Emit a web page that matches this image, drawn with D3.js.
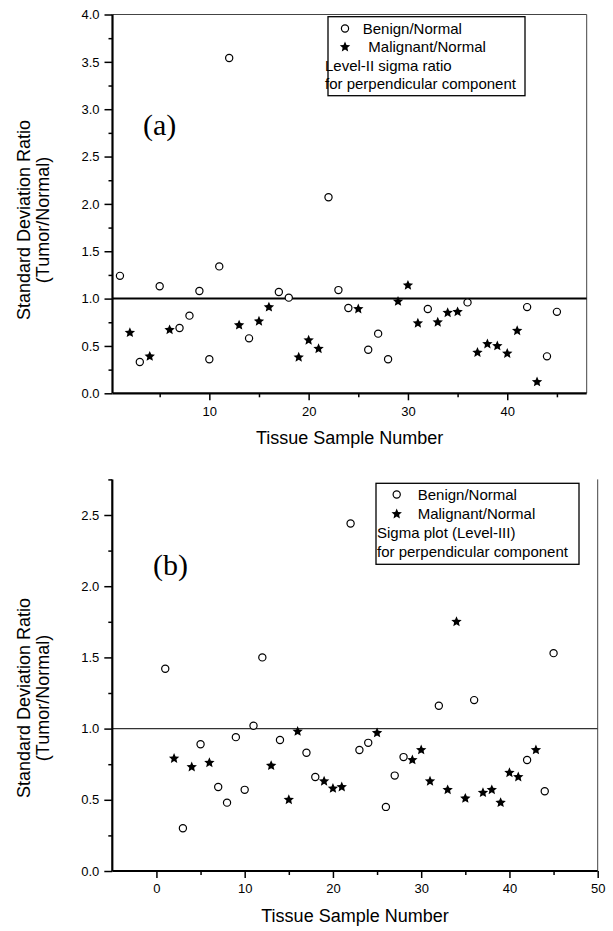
<!DOCTYPE html>
<html>
<head>
<meta charset="utf-8">
<script src="https://cdn.jsdelivr.net/npm/d3@7"></script>
<style>
  body { margin: 0; background: #fff; }
  svg { display: block; font-family: "Liberation Sans", Arial, sans-serif; }
</style>
</head>
<body>
<svg id="chart" width="613" height="931"></svg>
<script>
// Sample numbers for each tissue class
const benignSamples = [1, 3, 5, 7, 8, 9, 10, 11, 12, 14, 17, 18, 22, 23, 24, 26, 27, 28, 32, 36, 42, 44, 45];
const malignantSamples = [2, 4, 6, 13, 15, 16, 19, 20, 21, 25, 29, 30, 31, 33, 34, 35, 37, 38, 39, 40, 41, 43];

// (a) Level-II sigma ratio, perpendicular component
const benignLevel2 = [1.24, 0.33, 1.13, 0.69, 0.82, 1.08, 0.36, 1.34, 3.54, 0.58, 1.07, 1.01, 2.07, 1.09, 0.90, 0.46, 0.63, 0.36, 0.89, 0.96, 0.91, 0.39, 0.86];
const malignantLevel2 = [0.64, 0.39, 0.67, 0.72, 0.76, 0.91, 0.38, 0.56, 0.47, 0.89, 0.97, 1.14, 0.74, 0.75, 0.85, 0.86, 0.43, 0.52, 0.50, 0.42, 0.66, 0.12];

// (b) Level-III sigma plot, perpendicular component
const benignLevel3 = [1.42, 0.30, 0.89, 0.59, 0.48, 0.94, 0.57, 1.02, 1.50, 0.92, 0.83, 0.66, 2.44, 0.85, 0.90, 0.45, 0.67, 0.80, 1.16, 1.20, 0.78, 0.56, 1.53];
const malignantLevel3 = [0.79, 0.73, 0.76, 0.74, 0.50, 0.98, 0.63, 0.58, 0.59, 0.97, 0.78, 0.85, 0.63, 0.57, 1.75, 0.51, 0.55, 0.57, 0.48, 0.69, 0.66, 0.85];

// Axis ticks
const xMajorA = [10, 20, 30, 40];
const xMinorA = [5, 15, 25, 35, 45];
const yMajorA = [0, 0.5, 1.0, 1.5, 2.0, 2.5, 3.0, 3.5, 4.0];
const yMinorA = [0.25, 0.75, 1.25, 1.75, 2.25, 2.75, 3.25, 3.75];
const xMajorB = [0, 10, 20, 30, 40, 50];
const xMinorB = [5, 15, 25, 35, 45];
const yMajorB = [0, 0.5, 1.0, 1.5, 2.0, 2.5];
const yMinorB = [0.25, 0.75, 1.25, 1.75, 2.25, 2.75];

// Text
const legendSeries = ["Benign/Normal", "Malignant/Normal"];
const notesA = ["Level-II sigma ratio", "for perpendicular component"];
const notesB = ["Sigma plot (Level-III)", "for perpendicular component"];
const yTitle = ["Standard Deviation Ratio", "(Tumor/Normal)"];
const xTitle = "Tissue Sample Number";
const referenceRatio = 1.0;

const svg = d3.select("#chart");
const fmtY = d3.format(".1f");

// five-pointed star with a fairly plump body
const plumpStar = {
  draw(context, size) {
    const R = Math.sqrt(size) / 1.1;
    const r = R * 0.46;
    for (let i = 0; i < 10; i++) {
      const rad = i % 2 ? r : R;
      const a = -Math.PI / 2 + i * Math.PI / 5;
      const px = rad * Math.cos(a), py = rad * Math.sin(a);
      if (i === 0) context.moveTo(px, py); else context.lineTo(px, py);
    }
    context.closePath();
  }
};
const starPath = d3.symbol().type(plumpStar).size(36)();

function drawPanel(p) {
  const g = svg.append("g");
  const x = d3.scaleLinear().domain(p.xDomain).range([p.left, p.right]);
  const y = d3.scaleLinear().domain(p.yDomain).range([p.bottom, p.top]);

  // thin frame on the top / right
  if (p.topBorder) {
    g.append("line").attr("x1", p.left).attr("x2", p.right)
      .attr("y1", p.top).attr("y2", p.top)
      .attr("stroke", "#444").attr("stroke-width", 1);
  }
  g.append("line").attr("x1", p.right).attr("x2", p.right)
    .attr("y1", p.top).attr("y2", p.bottom)
    .attr("stroke", "#444").attr("stroke-width", 1);

  // ratio = 1 reference line
  g.append("line")
    .attr("x1", x(p.xDomain[0])).attr("x2", x(p.xDomain[1]))
    .attr("y1", y(referenceRatio)).attr("y2", y(referenceRatio))
    .attr("stroke", p.refColor).attr("stroke-width", p.refWidth);

  // axes: major ticks with labels, minor ticks without
  const styleAxis = sel => {
    sel.select(".domain").remove();
    sel.selectAll(".tick line").attr("stroke", "#000").attr("stroke-width", 1.5);
    sel.selectAll(".tick text").attr("fill", "#000")
      .style("font-family", '"Liberation Sans", Arial, sans-serif')
      .style("font-size", "13px");
  };
  g.append("g").attr("transform", `translate(0,${p.bottom})`)
    .call(d3.axisBottom(x).tickValues(p.xMajor).tickSize(7).tickPadding(6).tickFormat(d3.format("d")))
    .call(styleAxis);
  g.append("g").attr("transform", `translate(0,${p.bottom})`)
    .call(d3.axisBottom(x).tickValues(p.xMinor).tickSize(4).tickFormat(""))
    .call(styleAxis);
  g.append("g").attr("transform", `translate(${p.left},0)`)
    .call(d3.axisLeft(y).tickValues(p.yMajor).tickSize(8).tickPadding(5).tickFormat(fmtY))
    .call(styleAxis);
  g.append("g").attr("transform", `translate(${p.left},0)`)
    .call(d3.axisLeft(y).tickValues(p.yMinor).tickSize(4).tickFormat(""))
    .call(styleAxis);

  // thick left / bottom axis lines
  g.append("line").attr("x1", p.left).attr("x2", p.right)
    .attr("y1", p.bottom).attr("y2", p.bottom)
    .attr("stroke", "#000").attr("stroke-width", 2.2);
  g.append("line").attr("x1", p.left).attr("x2", p.left)
    .attr("y1", p.top).attr("y2", p.bottom)
    .attr("stroke", "#000").attr("stroke-width", 2.2);

  // malignant / normal: filled stars
  g.append("g").selectAll("path")
    .data(d3.zip(malignantSamples, p.malignant))
    .join("path")
    .attr("d", starPath)
    .attr("transform", d => `translate(${x(d[0])},${y(d[1])})`)
    .attr("fill", "#000");

  // benign / normal: open circles
  g.append("g").selectAll("circle")
    .data(d3.zip(benignSamples, p.benign))
    .join("circle")
    .attr("cx", d => x(d[0])).attr("cy", d => y(d[1]))
    .attr("r", 3.6)
    .attr("fill", "#fff").attr("stroke", "#000").attr("stroke-width", 1.2);

  // axis titles
  g.append("text")
    .attr("x", (p.left + p.right) / 2).attr("y", p.bottom + 51)
    .attr("text-anchor", "middle").attr("font-size", 18)
    .text(xTitle);
  const yt = g.append("g").attr("transform", `translate(0,${p.yTitleCenter}) rotate(-90)`);
  yt.append("text").attr("x", 0).attr("y", 29.5)
    .attr("text-anchor", "middle").attr("font-size", 18).text(yTitle[0]);
  yt.append("text").attr("x", 0).attr("y", 48.5)
    .attr("text-anchor", "middle").attr("font-size", 18).text(yTitle[1]);

  // panel letter
  g.append("text").attr("x", p.letterX).attr("y", p.letterY)
    .attr("font-family", '"Liberation Serif", "Times New Roman", serif')
    .attr("font-size", 30).text(p.letter);

  // legend box
  const L = p.legend;
  g.append("rect").attr("x", L.x).attr("y", L.y).attr("width", L.w).attr("height", L.h)
    .attr("fill", "#fff").attr("stroke", "#000").attr("stroke-width", 1.3);
  g.append("circle").attr("cx", L.symX).attr("cy", L.rows[0])
    .attr("r", 3.6).attr("fill", "#fff").attr("stroke", "#000").attr("stroke-width", 1.2);
  g.append("path").attr("d", starPath)
    .attr("transform", `translate(${L.symX},${L.rows[1]})`).attr("fill", "#000");
  g.append("text").attr("x", L.textX[0]).attr("y", L.rows[0]).attr("dy", "0.35em")
    .attr("font-size", 15).text(legendSeries[0]);
  g.append("text").attr("x", L.textX[1]).attr("y", L.rows[1]).attr("dy", "0.35em")
    .attr("font-size", 15).text(legendSeries[1]);
  g.append("text").attr("x", L.noteX).attr("y", L.rows[2]).attr("dy", "0.35em")
    .attr("font-size", 15).text(p.notes[0]);
  g.append("text").attr("x", L.noteX).attr("y", L.rows[3]).attr("dy", "0.35em")
    .attr("font-size", 15).text(p.notes[1]);
}

drawPanel({
  left: 112.5, right: 586.7, top: 14.5, bottom: 393.3,
  xDomain: [0.25, 48], yDomain: [0, 4],
  xMajor: xMajorA, xMinor: xMinorA, yMajor: yMajorA, yMinor: yMinorA,
  benign: benignLevel2, malignant: malignantLevel2,
  topBorder: true, refColor: "#000", refWidth: 2,
  yTitleCenter: 220,
  letter: "(a)", letterX: 143, letterY: 135,
  notes: notesA,
  legend: { x: 328, y: 16.7, w: 197, h: 79, symX: 345, textX: [362.7, 368.3], noteX: 325,
            rows: [28.5, 47, 65.5, 84] }
});

drawPanel({
  left: 112.3, right: 597.7, top: 479.4, bottom: 871,
  xDomain: [-5, 50], yDomain: [0, 2.75],
  xMajor: xMajorB, xMinor: xMinorB, yMajor: yMajorB, yMinor: yMinorB,
  benign: benignLevel3, malignant: malignantLevel3,
  topBorder: false, refColor: "#333", refWidth: 1.1,
  yTitleCenter: 698,
  letter: "(b)", letterX: 153, letterY: 575,
  notes: notesB,
  legend: { x: 376, y: 483.3, w: 203, h: 81, symX: 396.7, textX: [417.7, 417.7], noteX: 377,
            rows: [494.5, 514, 533, 551.7] }
});
</script>
</body>
</html>
